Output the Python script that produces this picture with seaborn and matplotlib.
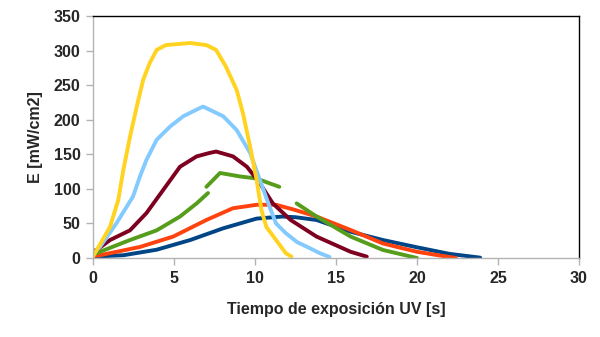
import numpy as np
import pandas as pd
import matplotlib
matplotlib.use("Agg")
import matplotlib.pyplot as plt
import seaborn as sns

# Data (x: time [s], y: E [mW/cm2])
yellow_x = [0, 0.23, 1.05, 1.56, 1.87, 2.28, 2.7, 3.1, 3.5, 3.93, 4.5, 6.0, 7.0, 7.6, 8.2, 8.87, 9.26, 9.7, 10.1, 10.4, 10.7, 11.3, 11.9, 12.25]
yellow_y = [2, 11.6, 45, 84, 127, 175, 219, 258, 282, 301, 308, 311, 308, 301, 277, 243, 209, 161, 113, 69, 45, 26, 7, 2]

lblue_x = [0, 0.43, 1.44, 2.47, 2.9, 3.3, 3.93, 4.75, 5.57, 6.6, 6.8, 8.04, 8.87, 9.7, 10.3, 10.9, 11.3, 11.9, 12.6, 13.4, 14.0, 14.6]
lblue_y = [6, 16, 50, 89, 118, 142, 171, 190, 205, 217, 219, 205, 185, 152, 113, 74, 50, 36, 23, 14, 7, 1.5]

maroon_x = [0, 0.23, 1.05, 2.28, 3.3, 4.32, 5.37, 6.4, 7.2, 7.6, 8.64, 9.5, 10.3, 11.1, 12.2, 13.8, 15.9, 16.9]
maroon_y = [10, 11.6, 26, 40, 65, 98, 132, 147, 152, 154, 147, 132, 108, 79, 55, 31, 9, 2]

green_x = [0, 0.43, 2.28, 3.93, 5.37, 6.4, 7.1, 7.0, 7.84, 9.07, 10.1, 10.9, 11.5, 12.57, 13.8, 15.9, 17.9, 20.0]
green_y = [5, 9, 26, 40, 60, 79, 94, 103, 123, 118, 115, 108, 103, 79, 60, 31, 11.6, 0]
green_seg = [0, 0, 0, 0, 0, 0, 0, 1, 1, 1, 1, 1, 1, 2, 2, 2, 2, 2]

orange_x = [0, 0.43, 2.9, 4.95, 7.0, 8.64, 10.1, 11.3, 12.4, 13.8, 15.9, 17.9, 20.0, 21.3, 22.4]
orange_y = [3, 4, 16, 31, 55, 72, 77, 77, 70, 60, 40.5, 21, 9, 4, 0]

blue_x = [0, 1.87, 3.93, 6.0, 8.04, 10.1, 11.7, 12.5, 13.8, 15.9, 17.9, 20.0, 22.0, 23.9]
blue_y = [2, 4, 12, 26, 43, 57, 60, 59, 55, 38, 26, 15.5, 6, 0.5]

x_ticks = [0, 5, 10, 15, 20, 25, 30]
y_ticks = [0, 50, 100, 150, 200, 250, 300, 350]

series = [
    ("blue", blue_x, blue_y, None, "#004586"),
    ("orange", orange_x, orange_y, None, "#ff420e"),
    ("green", green_x, green_y, green_seg, "#579d1c"),
    ("maroon", maroon_x, maroon_y, None, "#7e0021"),
    ("lblue", lblue_x, lblue_y, None, "#83caff"),
    ("yellow", yellow_x, yellow_y, None, "#ffd320"),
]

sns.set_theme(style="white")
plt.rcParams["font.family"] = ["Liberation Sans", "DejaVu Sans"]

fig = plt.figure(figsize=(6.0, 3.37), dpi=100)
ax = fig.add_axes([0.155, 0.2344, 0.81, 0.718])

for name, xs, ys, seg, col in series:
    df = pd.DataFrame({"x": xs, "y": ys, "seg": seg if seg is not None else [0] * len(xs)})
    sns.lineplot(data=df, x="x", y="y", units="seg", estimator=None, sort=False,
                 color=col, linewidth=2.8, ax=ax)

ax.set_xlim(0, 30)
ax.set_ylim(0, 350)
ax.set_xticks(x_ticks)
ax.set_yticks(y_ticks)
ax.set_xticklabels([str(t) for t in x_ticks], fontsize=11.5, fontweight="bold")
ax.set_yticklabels([str(t) for t in y_ticks], fontsize=11.5, fontweight="bold")
ax.set_xlabel("Tiempo de exposición UV [s]", fontsize=11.5, fontweight="bold", labelpad=12)
ax.set_ylabel("E [mW/cm2]", fontsize=11.5, fontweight="bold", labelpad=8)

for s in ["left", "bottom"]:
    ax.spines[s].set_color("#b3b3b3")
    ax.spines[s].set_linewidth(1)
for s in ["top", "right"]:
    ax.spines[s].set_color("black")
    ax.spines[s].set_linewidth(1)
ax.tick_params(axis="both", which="both", direction="out", length=5, width=1,
               color="#b3b3b3", bottom=True, left=True, pad=4)
ax.grid(False)

fig.savefig("out.png", dpi=100)
